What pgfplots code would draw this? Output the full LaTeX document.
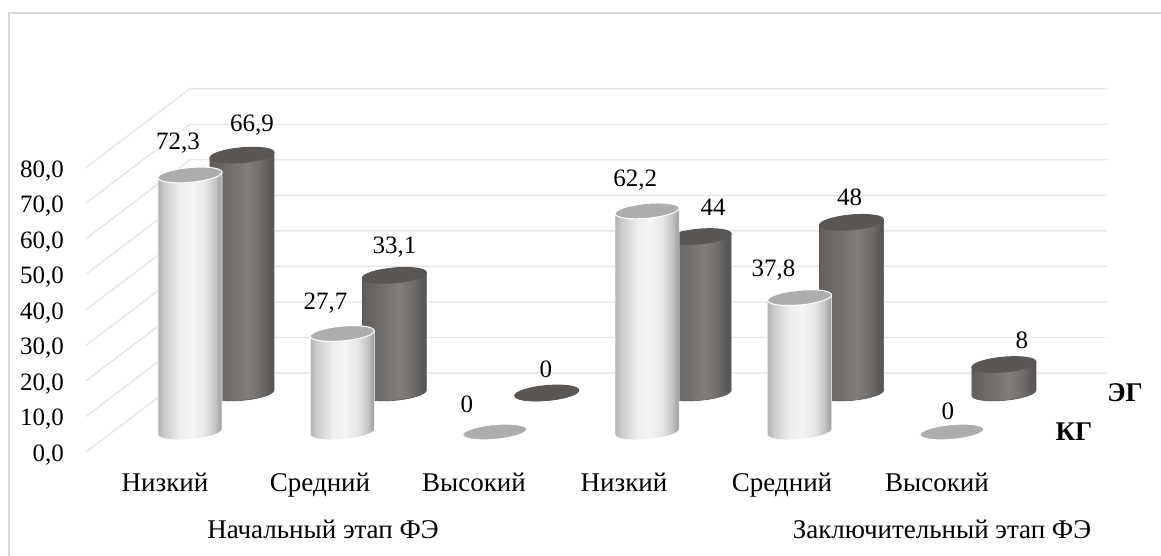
\documentclass[border=0pt]{standalone}
\usepackage{fontspec}
\setmainfont{Liberation Serif}
\usepackage{pgfplots}
\pgfplotsset{compat=1.18}
\usepackage{pgfplotstable}

\definecolor{kgtop}{HTML}{ADADAD}
\definecolor{egtop}{HTML}{5A5654}
\definecolor{eg1}{HTML}{625E5C}
\definecolor{eg2}{HTML}{716D6B}
\definecolor{eg3}{HTML}{827E7C}
\definecolor{eg4}{HTML}{55514F}
\definecolor{gridc}{HTML}{E6E6E6}
\definecolor{framec}{HTML}{DADADA}

\pgfdeclarehorizontalshading{kgside}{100bp}{
  color(0bp)=(black!30); color(25bp)=(black!30); color(30bp)=(black!20);
  color(42bp)=(black!7); color(52bp)=(black!4); color(62bp)=(black!10);
  color(70bp)=(black!24); color(75bp)=(black!40); color(100bp)=(black!40)}
\pgfdeclarehorizontalshading{egside}{100bp}{
  color(0bp)=(eg1); color(25bp)=(eg1); color(40bp)=(eg2);
  color(54bp)=(eg3); color(64bp)=(eg2); color(75bp)=(eg4);
  color(100bp)=(eg4)}
\pgfdeclareplotmark{blankmark}{}

% one cylinder per point, top centre on the data point; 3.555pt = 1 unit of y
% half width 32pt, half height 7.4pt, tilted by 0.085
\pgfplotsset{
  cyl/.style n args={3}{
    scatter, only marks, mark=blankmark, point meta=\thisrow{v}, forget plot,
    visualization depends on={\thisrow{v} \as \cv},
    scatter/@pre marker code/.code={%
      \pgfmathsetmacro\ch{\cv*3.555}
      \shadedraw[shading=#1, shading angle=0, draw=#3, line width=0.6pt]
        (32pt,2.72pt) -- (32pt,{(2.72-\ch)*1pt})
        .. controls (32pt,{(-1.37-\ch)*1pt}) and (17.67pt,{(-5.9-\ch)*1pt}) .. (0pt,{(-7.4-\ch)*1pt})
        .. controls (-17.67pt,{(-8.9-\ch)*1pt}) and (-32pt,{(-6.81-\ch)*1pt}) .. (-32pt,{(-2.72-\ch)*1pt})
        -- (-32pt,-2.72pt) -- cycle;
      \filldraw[fill=#2, draw=#3, line width=1pt]
        (32pt,2.72pt) .. controls (32pt,6.81pt) and (17.67pt,8.9pt) .. (0pt,7.4pt)
        .. controls (-17.67pt,5.9pt) and (-32pt,1.37pt) .. (-32pt,-2.72pt)
        .. controls (-32pt,-6.81pt) and (-17.67pt,-8.9pt) .. (0pt,-7.4pt)
        .. controls (17.67pt,-5.9pt) and (32pt,-1.37pt) .. (32pt,2.72pt) -- cycle;
    },
    scatter/@post marker code/.code={},
  },
  vals/.style={
    only marks, mark=blankmark, point meta=\thisrow{v}, forget plot,
    visualization depends on={\thisrow{dx} \as \ldx},
    visualization depends on={\thisrow{dy} \as \ldy},
    /pgf/number format/fixed zerofill=false,
    nodes near coords,
    every node near coord/.style={anchor=center, inner sep=0pt, black,
      font=\fontsize{25}{28}\selectfont, xshift=\ldx pt, yshift=\ldy pt},
  },
  wall/.style={gridc, line width=1.4pt, forget plot},
}

\pgfplotstableread{
x v  dx  dy
0 72.3 -12 32
1 27.7 -17 30
2 0    -28 28
3 62.2 -12 31
4 37.8 -26 28
5 0    -4  21
}\kgdata
\pgfplotstableread{
x v  dx  dy
0 66.9 10 30
1 33.1 0  28
2 0    -1 24
3 44   14 29
4 48   -2 25
5 8    18 24
}\egdata

\begin{document}
\begin{tikzpicture}[x=1pt,y=1pt]
\useasboundingbox (0,0) rectangle (1161,556);
\fill[framec] (8,0) rectangle (10,543.5);
\fill[framec] (8,543.5) rectangle (1161,542);
\begin{axis}[
  at={(86pt,104pt)}, anchor=south west,
  scale only axis, width=1021pt, height=363pt,
  xmin=-0.6824, xmax=6.0177, ymin=0, ymax=102.11,
  clip=false,
  axis line style={draw=none},
  major tick length=0pt,
  ytick={0,10,...,80},
  ytick pos=left,
  xtick={-0.164,0.853,1.864,2.848,3.885,4.902},
  xticklabels={Низкий,Средний,Высокий,Низкий,Средний,Высокий},
  xtick pos=bottom,
  /pgf/number format/.cd, fixed, fixed zerofill, precision=1, use comma, assume math mode=true, /pgfplots/.cd,
  yticklabel style={anchor=base east, inner sep=0pt, xshift=-22pt, yshift=-9.5pt, font=\fontsize{25}{28}\selectfont},
  xticklabel style={anchor=base, inner sep=0pt, yshift=-40pt, font=\fontsize{27}{30}\selectfont},
]
% wall and side lines
\addplot[wall] coordinates {(-0.6824,0) (0,22.2) (6.0177,22.2)};
\addplot[wall] coordinates {(-0.6824,10) (0,32.2) (6.0177,32.2)};
\addplot[wall] coordinates {(-0.6824,20) (0,42.2) (6.0177,42.2)};
\addplot[wall] coordinates {(-0.6824,30) (0,52.2) (6.0177,52.2)};
\addplot[wall] coordinates {(-0.6824,40) (0,62.2) (6.0177,62.2)};
\addplot[wall] coordinates {(-0.6824,50) (0,72.2) (6.0177,72.2)};
\addplot[wall] coordinates {(-0.6824,60) (0,82.2) (6.0177,82.2)};
\addplot[wall] coordinates {(-0.6824,70) (0,92.2) (6.0177,92.2)};
\addplot[wall] coordinates {(-0.6824,80) (0,102.2) (6.0177,102.2)};
% back row, then front row
\addplot[cyl={egside}{egtop}{egtop}, xshift=52pt, yshift=59pt] table[x=x,y=v] {\egdata};
\addplot[cyl={kgside}{kgtop}{white}, yshift=20pt] table[x=x,y=v] {\kgdata};
\addplot[vals, xshift=52pt, yshift=59pt] table[x=x,y=v] {\egdata};
\addplot[vals, yshift=20pt] table[x=x,y=v] {\kgdata};
\end{axis}
\node[font=\fontsize{27}{30}\selectfont, anchor=base] at (323,17) {Начальный этап ФЭ};
\node[font=\fontsize{27}{30}\selectfont, anchor=base] at (942,17) {Заключительный этап ФЭ};
\node[font=\fontsize{27}{30}\bfseries\selectfont, anchor=center] at (1125,163) {ЭГ};
\node[font=\fontsize{27}{30}\bfseries\selectfont, anchor=center] at (1074,124) {КГ};
\end{tikzpicture}
\end{document}
